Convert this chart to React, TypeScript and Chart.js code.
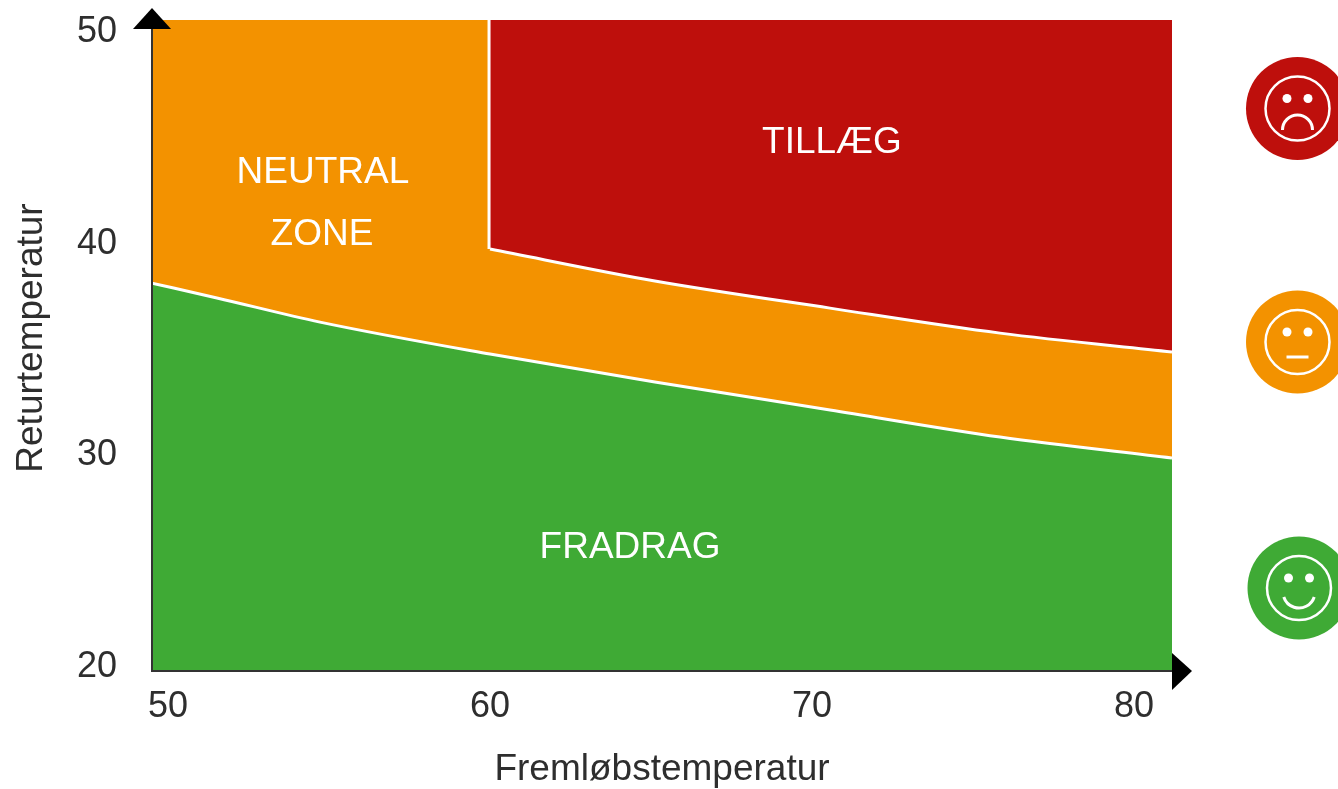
import React, { useEffect, useRef } from "react";
import { Chart, registerables } from "chart.js";

Chart.register(...registerables);

const xTicks = [50, 60, 70, 80];
const yTicks = [20, 30, 40, 50];
const xRange = [49.503, 81.18];
const yRange = [19.72, 50.47];

const lowerX = [49.5, 51.52, 54.72, 60, 65.12, 70.56, 75.84, 81.18];
const lowerY = [38.04, 37.34, 36.2, 34.69, 33.37, 32.05, 30.77, 29.78];
const upperX = [60, 65.12, 70.56, 75.84, 81.18];
const upperY = [39.65, 38.14, 36.86, 35.68, 34.79];
const stepX = [59.97, 59.97];
const stepY = [50.47, 39.65];

const zoneTexts = ["NEUTRAL", "ZONE", "TILLÆG", "FRADRAG"];
const zoneTextX = [54.81, 54.78, 70.62, 64.35];
const zoneTextY = [43.26, 40.33, 44.68, 25.55];

const xTitle = "Fremløbstemperatur";
const yTitle = "Returtemperatur";

const ORANGE = "#F39200";
const RED = "#BE0F0C";
const GREEN = "#3FAA35";
const INK = "#2E2E2E";
const FONT = '"Liberation Sans", Arial, sans-serif';

const pts = (xs: number[], ys: number[]) => xs.map((x, i) => ({ x, y: ys[i] }));

function face(ctx: CanvasRenderingContext2D, cx: number, cy: number, color: string, mood: number) {
  ctx.save();
  ctx.fillStyle = color;
  ctx.beginPath();
  ctx.arc(cx, cy, 51.5, 0, Math.PI * 2);
  ctx.fill();
  ctx.strokeStyle = "#fff";
  ctx.fillStyle = "#fff";
  ctx.lineWidth = 2.5;
  ctx.beginPath();
  ctx.arc(cx, cy, 32, 0, Math.PI * 2);
  ctx.stroke();
  [-10.5, 10.5].forEach((dx) => {
    ctx.beginPath();
    ctx.arc(cx + dx, cy - 10, 4.5, 0, Math.PI * 2);
    ctx.fill();
  });
  ctx.lineWidth = 3;
  ctx.beginPath();
  if (mood < 0) ctx.arc(cx, cy + 21.5, 15, Math.PI, Math.PI * 2);
  else if (mood > 0) ctx.arc(cx, cy + 4, 16, Math.PI * 0.1, Math.PI * 0.9);
  else {
    ctx.moveTo(cx - 11, cy + 15);
    ctx.lineTo(cx + 11, cy + 15);
  }
  ctx.stroke();
  ctx.restore();
}

const decorations = {
  id: "decorations",
  afterDraw(chart: any) {
    const { ctx, chartArea: a, scales } = chart;
    ctx.save();
    ctx.fillStyle = "#fff";
    ctx.font = `37px ${FONT}`;
    ctx.textAlign = "center";
    ctx.textBaseline = "middle";
    zoneTexts.forEach((t, i) => {
      ctx.fillText(t, scales.x.getPixelForValue(zoneTextX[i]), scales.y.getPixelForValue(zoneTextY[i]));
    });

    ctx.fillStyle = INK;
    ctx.save();
    ctx.translate(32, 338);
    ctx.rotate(-Math.PI / 2);
    ctx.fillText(yTitle, 0, 0);
    ctx.restore();

    ctx.fillStyle = "#000";
    ctx.beginPath();
    ctx.moveTo(a.left, a.top - 12);
    ctx.lineTo(a.left + 19, a.top + 9);
    ctx.lineTo(a.left - 19, a.top + 9);
    ctx.closePath();
    ctx.fill();
    ctx.beginPath();
    ctx.moveTo(a.right, a.bottom - 18);
    ctx.lineTo(a.right + 20, a.bottom);
    ctx.lineTo(a.right, a.bottom + 19);
    ctx.closePath();
    ctx.fill();
    ctx.restore();

    face(ctx, a.right + 125.5, 108.5, RED, -1);
    face(ctx, a.right + 125.5, 342, ORANGE, 0);
    face(ctx, a.right + 127, 588, GREEN, 1);
  },
};

export default function App() {
  const ref = useRef<HTMLCanvasElement | null>(null);
  useEffect(() => {
    document.body.style.background = "#fff";
    const chart = new Chart(ref.current as HTMLCanvasElement, {
      type: "scatter",
      data: {
        datasets: [
          {
            label: "Tillæg edge",
            data: pts(stepX, stepY),
            showLine: true,
            pointRadius: 0,
            borderColor: "#fff",
            borderWidth: 3,
            fill: false,
          },
          {
            label: "Tillæg",
            data: pts(upperX, upperY),
            showLine: true,
            pointRadius: 0,
            borderColor: "#fff",
            borderWidth: 3,
            backgroundColor: RED,
            fill: "end",
            cubicInterpolationMode: "monotone",
          },
          {
            label: "Fradrag",
            data: pts(lowerX, lowerY),
            showLine: true,
            pointRadius: 0,
            borderColor: "#fff",
            borderWidth: 3,
            backgroundColor: GREEN,
            fill: "start",
            cubicInterpolationMode: "monotone",
          },
          {
            label: "Neutral zone",
            data: pts(xRange, [yRange[1], yRange[1]]),
            showLine: true,
            pointRadius: 0,
            borderWidth: 0,
            backgroundColor: ORANGE,
            fill: "start",
          },
        ],
      } as any,
      options: {
        responsive: false,
        animation: false,
        layout: { autoPadding: false, padding: { left: 0, right: 166, top: 20, bottom: 0 } },
        plugins: { legend: { display: false }, tooltip: { enabled: false }, title: { display: false } },
        scales: {
          x: {
            type: "linear",
            min: xRange[0],
            max: xRange[1],
            afterBuildTicks: (s: any) => {
              s.ticks = xTicks.map((value) => ({ value }));
            },
            afterFit: (s: any) => {
              s.height = 118;
              s.paddingLeft = 0;
              s.paddingRight = 0;
            },
            grid: { display: false },
            border: { display: true, color: "#333", width: 2, z: 1 },
            ticks: {
              color: INK,
              font: { family: FONT, size: 36 },
              padding: 6,
              maxRotation: 0,
              autoSkip: false,
            },
            title: {
              display: true,
              text: xTitle,
              color: INK,
              font: { family: FONT, size: 37 },
              padding: { top: 0, bottom: -3 },
            },
          },
          y: {
            type: "linear",
            min: yRange[0],
            max: yRange[1],
            afterBuildTicks: (s: any) => {
              s.ticks = yTicks.map((value) => ({ value }));
            },
            afterFit: (s: any) => {
              s.width = 152;
              s.paddingTop = 0;
              s.paddingBottom = 0;
            },
            grid: { display: false },
            border: { display: true, color: "#333", width: 2, z: 1 },
            ticks: {
              color: INK,
              font: { family: FONT, size: 36 },
              padding: 27,
              labelOffset: 2,
              autoSkip: false,
            },
          },
        },
      } as any,
      plugins: [decorations],
    });
    return () => chart.destroy();
  }, []);
  return (
    <div style={{ position: "absolute", left: 0, top: 0, width: 1338, height: 789, overflow: "hidden" }}>
      <canvas ref={ref} width={1338} height={789} style={{ display: "block" }} />
    </div>
  );
}
